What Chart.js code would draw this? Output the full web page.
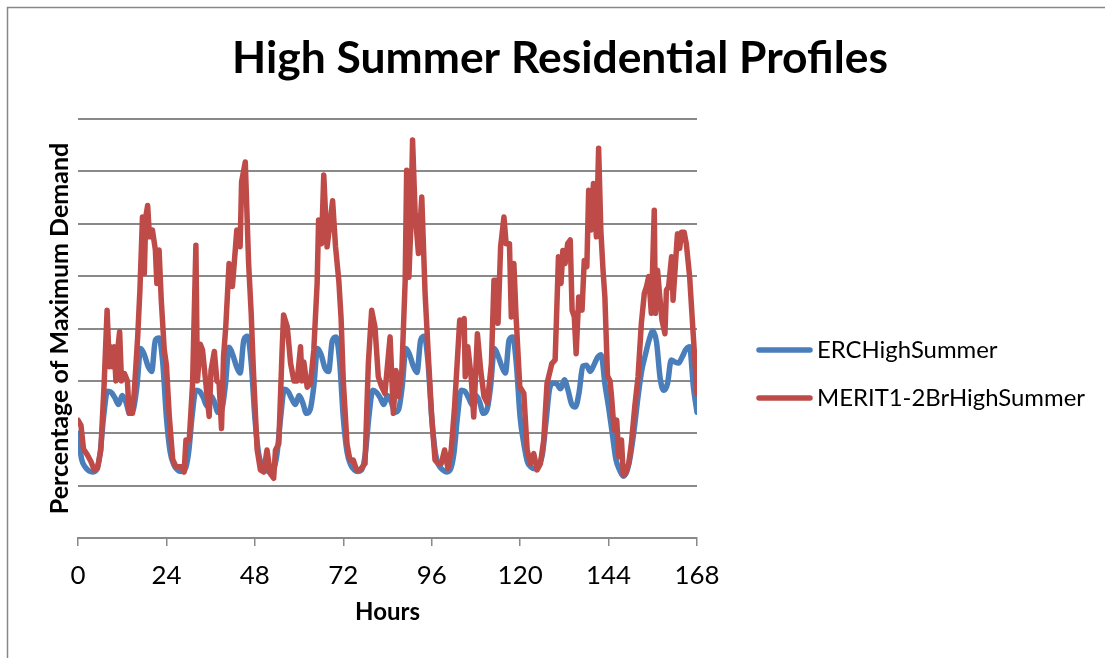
<!DOCTYPE html>
<html>
<head>
<meta charset="utf-8">
<script src="https://cdn.jsdelivr.net/npm/chart.js@4.4.0/dist/chart.umd.min.js"></script>
<style>
html,body{margin:0;padding:0;background:#fff;overflow:hidden}
#wrap{position:relative;width:1105px;height:658px}
</style>
</head>
<body>
<div id="wrap"><canvas id="c" width="1105" height="658"></canvas></div>
<script>
// ---------- DATA ----------
const chartTitle = 'High Summer Residential Profiles';
const xAxisTitle = 'Hours';
const yAxisTitle = 'Percentage of Maximum Demand';
const seriesNames = ['ERCHighSummer', 'MERIT1-2BrHighSummer'];
const xTickValues = [0, 24, 48, 72, 96, 120, 144, 168];

// ERC profile, hourly values for hours 0..168 (gridline units)
const ercValues = [
  2.0,1.5,1.35,1.28,1.26,1.3,1.62,2.35,2.8,2.78,2.68,2.55,2.72,2.6,2.38,2.45,2.9,3.62,3.5,3.28,3.18,3.78,3.82,3.35,
  2.3,1.65,1.4,1.3,1.27,1.3,1.62,2.35,2.82,2.8,2.68,2.52,2.72,2.6,2.4,2.45,2.92,3.64,3.5,3.28,3.15,3.78,3.85,3.35,
  2.3,1.62,1.38,1.3,1.26,1.3,1.6,2.3,2.84,2.8,2.66,2.55,2.72,2.58,2.38,2.45,2.9,3.62,3.5,3.25,3.18,3.76,3.84,3.38,
  2.3,1.65,1.4,1.3,1.27,1.3,1.62,2.35,2.82,2.78,2.68,2.55,2.72,2.6,2.4,2.45,2.9,3.62,3.5,3.28,3.16,3.78,3.85,3.35,
  2.3,1.62,1.38,1.3,1.26,1.3,1.6,2.32,2.82,2.8,2.68,2.54,2.72,2.6,2.38,2.45,2.9,3.62,3.48,3.28,3.15,3.78,3.84,3.3,
  2.3,1.8,1.45,1.35,1.32,1.4,1.58,2.2,2.85,2.96,2.94,2.85,3.02,2.82,2.55,2.5,2.78,3.28,3.3,3.18,3.3,3.45,3.5,2.95,
  2.5,2.0,1.5,1.3,1.18,1.28,1.6,2.1,2.7,3.2,3.5,3.78,3.95,3.75,3.05,2.82,2.95,3.4,3.36,3.34,3.46,3.6,3.65,2.9,
  2.4
];
const ercHours = ercValues.map((v, i) => i);

// MERIT profile, read at irregular (sub-hourly) times
const meritHours = [
  0,0.8,1.5,2.6,3.5,4.4,5.3,6.2,7.1,7.9,8.5,8.9,9.4,9.8,10.3,10.75,11.3,11.8,12.6,13.4,13.9,14.8,15.3,16.2,16.8,17.5,18.0,18.4,18.9,19.4,20.2,21.0,21.4,22.0,22.6,23.4,
  24.0,24.8,25.7,26.6,28.0,28.8,29.3,30.2,31.1,32.0,32.4,33.2,33.8,34.7,35.6,36.1,37.0,37.7,38.3,38.95,39.5,40.1,41.0,41.9,42.4,43.1,44.0,44.4,45.4,46.3,47.0,47.6,
  48.6,49.5,50.4,51.3,52.2,53.1,53.6,54.5,55.4,55.8,56.8,57.7,58.6,59.5,60.4,60.8,61.3,62.2,63.1,64.0,64.9,65.3,66.1,66.7,67.6,68.5,69.1,69.9,70.8,71.4,
  72.0,73.0,73.8,74.7,75.6,76.5,77.9,78.8,79.7,80.6,81.5,82.4,83.3,84.7,85.6,86.3,87.0,87.9,88.8,89.2,89.8,90.3,90.8,91.5,92.4,93.3,94.2,95.1,
  96.0,96.9,97.7,98.6,99.5,100.4,101.3,102.2,103.6,104.2,104.8,105.1,105.8,106.7,107.4,108.4,109.3,110.2,111.1,112.2,112.9,113.5,114.0,114.7,115.6,116.2,117.1,117.6,118.3,118.9,119.9,
  121.0,121.9,122.8,123.7,124.6,125.5,126.4,127.3,128.6,129.5,130.4,131.1,131.6,132.2,132.9,133.6,134.1,134.7,135.2,135.9,136.8,137.4,138.1,138.6,139.2,139.9,140.7,141.3,141.9,142.5,143.0,143.7,
  144.4,144.8,145.5,146.2,146.8,147.5,148.0,148.6,149.5,150.2,151.1,152.0,152.9,153.7,154.3,154.9,155.6,156.4,156.7,157.3,157.9,158.5,159.3,159.7,160.3,161.1,161.5,162.1,162.7,163.3,163.8,164.5,165.1,166.0,166.9,168.0
];
const meritValues = [
  2.25,2.15,1.7,1.58,1.46,1.3,1.33,1.68,2.95,4.35,3.27,3.65,3.27,3.65,3.0,3.58,3.94,3.0,3.14,3.0,2.38,2.38,2.82,3.84,4.73,6.13,5.05,6.13,6.35,5.75,5.88,5.5,4.86,5.5,4.54,3.6,
  3.3,2.3,1.5,1.36,1.36,1.26,1.87,1.87,2.95,5.59,3.0,3.7,3.59,2.95,2.32,3.2,3.56,3.0,2.95,2.09,3.46,4.03,5.24,4.8,5.24,5.88,5.56,6.8,7.18,5.25,4.3,3.2,
  1.7,1.3,1.26,1.68,1.23,1.14,1.68,1.8,3.59,4.26,4.03,3.33,3.0,3.0,3.65,3.0,3.36,2.88,2.95,3.59,4.86,6.07,5.62,6.93,5.56,6.07,6.44,5.56,4.9,4.2,
  3.0,1.8,1.49,1.49,1.3,1.3,1.42,3.33,4.35,4.03,3.08,2.89,2.76,3.84,2.38,3.2,2.7,3.2,4.92,7.02,4.98,5.88,7.6,6.2,5.43,6.51,4.67,3.46,
  2.31,1.49,1.42,1.42,1.68,1.33,1.68,2.5,4.16,4.1,4.19,3.08,3.65,3.08,2.31,3.9,3.2,2.7,2.57,3.33,4.92,4.92,4.1,5.56,6.13,5.62,5.62,4.22,5.24,4.22,2.89,
  2.76,1.68,1.42,1.61,1.3,1.42,1.87,2.95,3.33,3.4,5.37,4.86,5.49,5.24,5.62,5.69,4.35,4.22,3.52,4.6,4.35,5.3,5.18,6.64,5.88,6.77,5.75,7.44,5.88,5.11,4.6,3.1,
  3.0,2.7,2.06,2.25,1.55,1.87,1.2,1.23,1.43,1.81,2.5,3.08,4.1,4.67,4.8,4.99,4.29,6.26,4.29,5.11,4.6,4.16,3.9,4.73,4.8,5.37,4.54,5.18,5.81,5.53,5.84,5.84,5.62,4.99,3.97,2.75
];

// ---------- STYLE ----------
const FAMILY = "Lato, 'Open Sans', 'DejaVu Sans', sans-serif";
const GRID = '#898989';
const BLUE = '#4A7EBB';
const RED = '#BE4B48';
const LINE_W = 5.5;

const mctx = document.createElement('canvas').getContext('2d');
function fitSize(text, weight, target) {
  mctx.font = weight + ' 100px ' + FAMILY;
  return Math.round(100 * target / mctx.measureText(text).width * 10) / 10;
}
const titleSize = fitSize(chartTitle, 'bold', 656);
const yTitleSize = fitSize(yAxisTitle, 'bold', 372);
const xTitleSize = fitSize(xAxisTitle, 'bold', 65);
const tickSize = fitSize('168', 'normal', 45);
const legendSize = fitSize(seriesNames[1], 'normal', 268);

const AREA = {left: 78, top: 119, right: 697, bottom: 538};

const framePlugin = {
  id: 'frame',
  beforeDraw(chart) {
    const ctx = chart.ctx;
    ctx.save();
    ctx.fillStyle = '#fff';
    ctx.fillRect(0, 0, chart.width, chart.height);
    ctx.strokeStyle = '#878787';
    ctx.lineWidth = 1.5;
    ctx.beginPath();
    ctx.moveTo(7.5, chart.height);
    ctx.lineTo(7.5, 7.5);
    ctx.lineTo(chart.width, 7.5);
    ctx.stroke();
    ctx.restore();
  }
};

const legendPlugin = {
  id: 'sideLegend',
  afterDraw(chart) {
    const ctx = chart.ctx;
    const rowsY = [350, 398];
    ctx.save();
    ctx.font = 'normal ' + legendSize + 'px ' + FAMILY;
    ctx.textBaseline = 'middle';
    ctx.textAlign = 'left';
    chart.data.datasets.forEach((ds, i) => {
      const y = rowsY[i];
      ctx.strokeStyle = ds.borderColor;
      ctx.lineWidth = LINE_W;
      ctx.lineCap = 'round';
      ctx.beginPath();
      ctx.moveTo(759, y);
      ctx.lineTo(810, y);
      ctx.stroke();
      ctx.fillStyle = '#000';
      ctx.fillText(ds.label, 817, y);
    });
    ctx.restore();
  }
};

new Chart(document.getElementById('c'), {
  type: 'line',
  data: {
    datasets: [
      {
        label: seriesNames[0],
        data: ercHours.map((h, i) => ({x: h, y: ercValues[i]})),
        borderColor: BLUE,
        backgroundColor: BLUE,
        borderWidth: LINE_W,
        pointRadius: 0,
        cubicInterpolationMode: 'monotone',
        borderJoinStyle: 'round',
        borderCapStyle: 'round',
        order: 1
      },
      {
        label: seriesNames[1],
        data: meritHours.map((h, i) => ({x: h, y: meritValues[i]})),
        borderColor: RED,
        backgroundColor: RED,
        borderWidth: LINE_W,
        pointRadius: 0,
        tension: 0,
        borderJoinStyle: 'round',
        borderCapStyle: 'round',
        order: 0
      }
    ]
  },
  options: {
    responsive: false,
    animation: false,
    devicePixelRatio: 1,
    layout: {padding: {left: 15, right: 0, top: 0, bottom: 0}},
    plugins: {
      legend: {display: false},
      tooltip: {enabled: false},
      title: {
        display: true,
        text: chartTitle,
        color: '#000',
        font: {family: FAMILY, size: titleSize, weight: 'bold', lineHeight: 1.2},
        padding: {top: 59 - titleSize * 0.6, bottom: AREA.top - 59 - titleSize * 0.6}
      }
    },
    scales: {
      x: {
        type: 'linear',
        min: 0,
        max: 168,
        afterBuildTicks(s) { s.ticks = xTickValues.map(v => ({value: v})); },
        ticks: {
          color: '#000',
          font: {family: FAMILY, size: tickSize, lineHeight: 1.2},
          padding: 576 - AREA.bottom - 8 - tickSize * 0.6,
          maxRotation: 0,
          autoSkip: false
        },
        grid: {drawOnChartArea: false, drawTicks: true, tickLength: 8, color: GRID, lineWidth: 1.5},
        border: {display: true, color: GRID, width: 2},
        title: {
          display: true,
          text: xAxisTitle,
          color: '#000',
          font: {family: FAMILY, size: xTitleSize, weight: 'bold', lineHeight: 1.2},
          padding: {top: 0, bottom: (658 - 612) - xTitleSize * 0.6}
        },
        afterFit(s) { s.height = 658 - AREA.bottom; }
      },
      y: {
        min: 0,
        max: 8,
        ticks: {display: false, stepSize: 1},
        grid: {color: GRID, lineWidth: 2, drawTicks: false},
        border: {display: false},
        title: {
          display: true,
          text: yAxisTitle,
          color: '#000',
          font: {family: FAMILY, size: yTitleSize, weight: 'bold', lineHeight: 1.2},
          padding: {top: 45 - yTitleSize * 0.6, bottom: 0}
        },
        afterFit(s) { s.width = AREA.left - 15; }
      },
      yR: {
        type: 'linear',
        position: 'right',
        display: true,
        ticks: {display: false},
        grid: {display: false},
        border: {display: false},
        afterFit(s) { s.width = 1105 - AREA.right; }
      }
    }
  },
  plugins: [framePlugin, legendPlugin]
});
</script>
</body>
</html>
